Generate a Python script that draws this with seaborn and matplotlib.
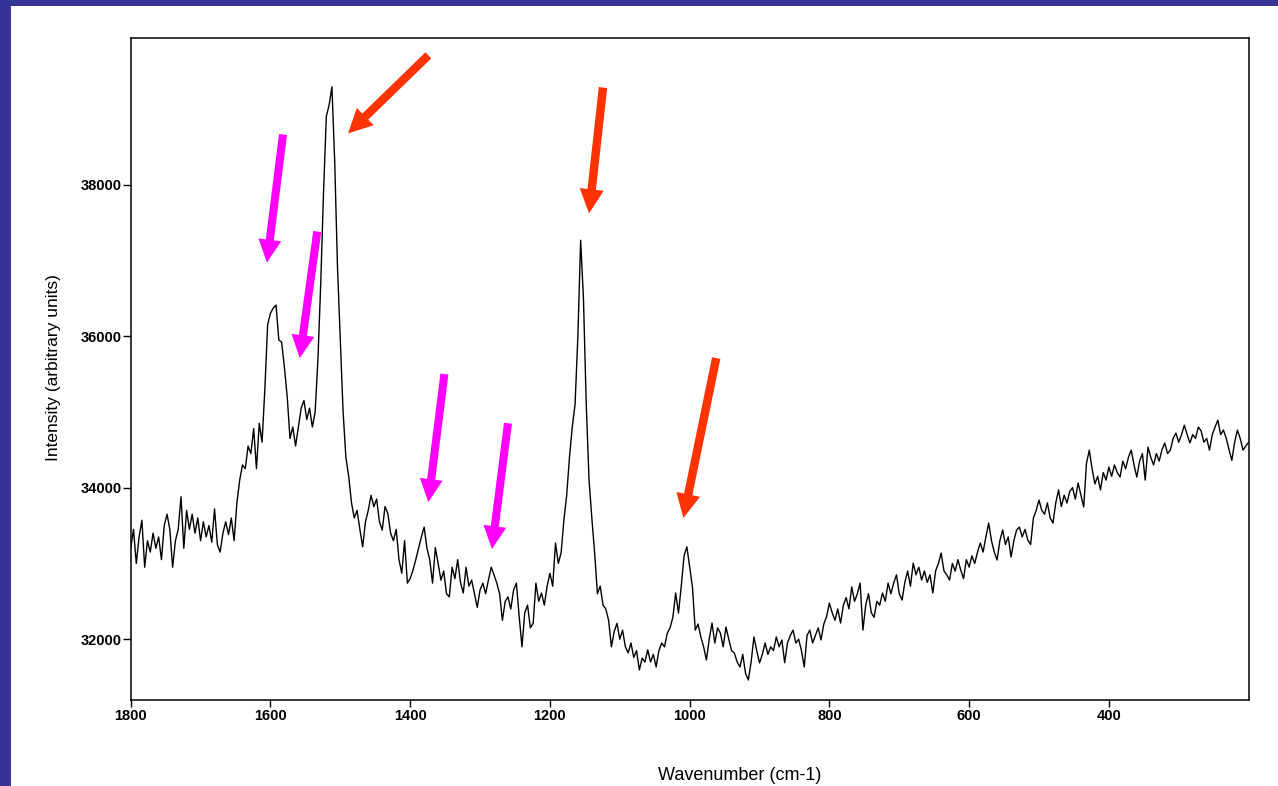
import matplotlib
matplotlib.use("Agg")
import matplotlib.pyplot as plt
import seaborn as sns
import pandas as pd
from matplotlib.patches import Rectangle

# ---------------- data ----------------
wavenumber = list(range(1800, 199, -4))

intensity = [
    33200, 33450, 33000, 33350, 33570, 32950, 33300, 33150, 33400, 33200,   # 1800-1764
    33350, 33050, 33500, 33650, 33450, 32950, 33300, 33450, 33880, 33200,   # 1760-1724
    33700, 33450, 33650, 33400, 33600, 33300, 33550, 33350, 33500, 33280,   # 1720-1684
    33720, 33250, 33150, 33400, 33550, 33380, 33600, 33300, 33800, 34100,   # 1680-1644
    34300, 34250, 34550, 34450, 34780, 34250, 34850, 34600, 35300, 36150,   # 1640-1604
    36300, 36370, 36410, 35950, 35920, 35590, 35200, 34650, 34800, 34550,   # 1600-1564
    34800, 35050, 35150, 34900, 35050, 34800, 35000, 35700, 36700, 37900,   # 1560-1524
    38900, 39050, 39290, 38300, 36900, 35950, 35000, 34400, 34150, 33800,   # 1520-1484
    33600, 33700, 33450, 33220, 33550, 33700, 33900, 33750, 33850, 33550,   # 1480-1444
    33440, 33750, 33660, 33400, 33300, 33450, 33050, 32870, 33300, 32740,   # 1440-1404
    32800, 32910, 33050, 33200, 33350, 33480, 33200, 33050, 32740, 33210,   # 1400-1364
    33000, 32780, 32900, 32600, 32560, 32950, 32800, 33050, 32750, 32610,   # 1360-1324
    32950, 32700, 32780, 32600, 32420, 32650, 32740, 32600, 32780, 32950,   # 1320-1284
    32850, 32740, 32600, 32250, 32500, 32560, 32400, 32650, 32740, 32300,   # 1280-1244
    31900, 32350, 32450, 32150, 32210, 32740, 32500, 32610, 32450, 32700,   # 1240-1204
    32870, 32700, 33270, 33000, 33140, 33570, 33900, 34400, 34800, 35100,   # 1200-1164
    35990, 37265, 36500, 35100, 34100, 33600, 33140, 32600, 32700, 32450,   # 1160-1124
    32400, 32250, 31900, 32100, 32210, 32000, 32120, 31900, 31820, 31950,   # 1120-1084
    31760, 31850, 31594, 31750, 31700, 31860, 31700, 31800, 31634, 31850,   # 1080-1044
    31950, 31900, 32080, 32150, 32290, 32610, 32345, 32700, 33100, 33220,   # 1040-1004
    32950, 32690, 32120, 32200, 32030, 31900, 31726, 32000, 32213, 31950,   # 1000-964
    32150, 32080, 31900, 32160, 32000, 31850, 31817, 31700, 31634, 31800,   # 960-924
    31550, 31462, 31700, 32030, 31850, 31687, 31800, 31950, 31800, 31900,   # 920-884
    31850, 32030, 31900, 31990, 31690, 31950, 32050, 32120, 31950, 32000,   # 880-844
    31850, 31634, 32050, 32120, 31950, 32050, 32150, 31990, 32200, 32300,   # 840-804
    32477, 32350, 32250, 32400, 32213, 32450, 32550, 32400, 32690, 32500,   # 800-764
    32600, 32741, 32120, 32450, 32600, 32350, 32290, 32500, 32450, 32610,   # 760-724
    32500, 32741, 32600, 32741, 32850, 32600, 32517, 32750, 32900, 32700,   # 720-684
    33005, 32850, 32950, 32781, 32900, 32750, 32850, 32610, 32900, 33000,   # 680-644
    33137, 32900, 32850, 32781, 33000, 32900, 33050, 32913, 32800, 33050,   # 640-604
    32952, 33100, 33000, 33150, 33270, 33150, 33350, 33533, 33300, 33150,   # 600-564
    33045, 33300, 33442, 33250, 33350, 33085, 33300, 33442, 33480, 33350,   # 560-524
    33450, 33308, 33250, 33600, 33700, 33836, 33700, 33650, 33800, 33600,   # 520-484
    33533, 33800, 33970, 33750, 33900, 33797, 33950, 34000, 33850, 34060,   # 480-444
    33900, 33745, 34325, 34495, 34250, 34050, 34150, 33970, 34200, 34100,   # 440-404
    34272, 34150, 34300, 34200, 34140, 34350, 34250, 34400, 34495, 34300,   # 400-364
    34140, 34350, 34450, 34100, 34535, 34400, 34300, 34450, 34350, 34500,   # 360-324
    34590, 34450, 34495, 34650, 34720, 34600, 34700, 34825, 34700, 34590,   # 320-284
    34700, 34650, 34800, 34750, 34600, 34650, 34495, 34700, 34800, 34891,   # 280-244
    34700, 34760, 34650, 34500, 34360, 34600, 34760, 34650, 34495, 34550,   # 240-204
    34600,                                                                  # 200
]

x_ticks = [1800, 1600, 1400, 1200, 1000, 800, 600, 400]
y_ticks = [32000, 34000, 36000, 38000]

# annotation arrows: (tail wavenumber, tail intensity, tip wavenumber, tip intensity)
magenta_arrows = [
    (1582, 38660, 1605, 36970),
    (1533, 37380, 1558, 35710),
    (1351, 35500, 1374, 33810),
    (1260, 34850, 1283, 33190),
]
red_arrows = [
    (1374, 39705, 1489, 38675),
    (1124, 39280, 1144, 37620),
    (962, 35710, 1009, 33600),
]

df = pd.DataFrame({"wavenumber": wavenumber, "intensity": intensity})

# ---------------- figure ----------------
sns.set_theme(style="ticks")
plt.rcParams["font.family"] = ["Liberation Sans", "DejaVu Sans"]

W, H = 1278, 786
fig = plt.figure(figsize=(W / 100, H / 100), dpi=100, facecolor="white")
ax = fig.add_axes([130.7 / W, 1 - 700 / H, (1248.6 - 130.7) / W, (700 - 38.3) / H])

sns.lineplot(data=df, x="wavenumber", y="intensity", ax=ax, color="black",
             linewidth=1.0, estimator=None)

ax.set_xlim(1800, 200)
ax.set_ylim(31198, 39930)
ax.set_xticks(x_ticks)
ax.set_yticks(y_ticks)
ax.set_xticklabels([str(t) for t in x_ticks], fontsize=10.5, fontweight="bold")
ax.set_yticklabels([str(t) for t in y_ticks], fontsize=10.5, fontweight="bold")
ax.tick_params(axis="x", direction="out", length=5, width=1, pad=1.5, colors="black")
ax.tick_params(axis="y", direction="out", length=5.5, width=1, pad=1, colors="black")
for s in ax.spines.values():
    s.set_visible(True)
    s.set_color("black")
    s.set_linewidth(1.1)

ax.set_xlabel("Wavenumber (cm-1)", fontsize=13, color="black")
ax.xaxis.set_label_coords(0.545, -0.101)
ax.set_ylabel("Intensity (arbitrary units)", fontsize=12.5, color="black")
ax.yaxis.set_label_coords(-0.062, 0.502)
ax.set_facecolor("white")

style = "simple,head_length=1.65,head_width=1.65,tail_width=0.58"
for (x0, y0, x1, y1) in magenta_arrows:
    ax.annotate("", xy=(x1, y1), xytext=(x0, y0), annotation_clip=False,
                arrowprops=dict(arrowstyle=style, mutation_scale=10, color="#ff00ff",
                                lw=0, shrinkA=0, shrinkB=0))
for (x0, y0, x1, y1) in red_arrows:
    ax.annotate("", xy=(x1, y1), xytext=(x0, y0), annotation_clip=False,
                arrowprops=dict(arrowstyle=style, mutation_scale=10.5, color="#ff3300",
                                lw=0, shrinkA=0, shrinkB=0))

# slide frame (blue band at top and left)
band = "#363497"
fig.patches.append(Rectangle((0, 0), 11 / W, 1, transform=fig.transFigure,
                             facecolor=band, edgecolor="none", zorder=10))
fig.patches.append(Rectangle((0, 1 - 6 / H), 1, 6 / H, transform=fig.transFigure,
                             facecolor=band, edgecolor="none", zorder=10))

fig.savefig("out.png", dpi=100, facecolor="white")
